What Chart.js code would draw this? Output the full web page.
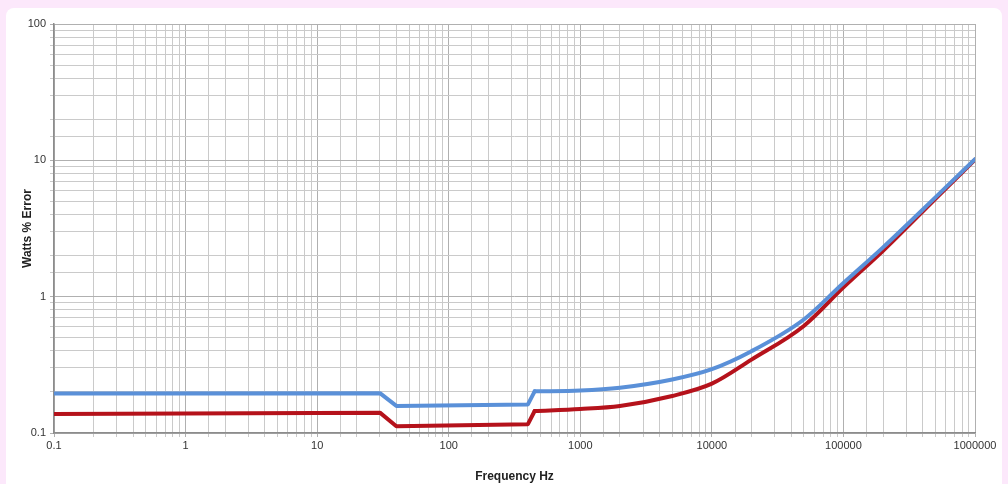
<!DOCTYPE html>
<html>
<head>
<meta charset="utf-8">
<script src="https://cdn.jsdelivr.net/npm/chart.js@4.4.1/dist/chart.umd.min.js"></script>
<style>
  html, body { margin: 0; padding: 0; background: #fce8fb; overflow: hidden; }
  #panel { position: absolute; left: 6px; top: 8px; width: 996px; height: 500px; background: #ffffff; border-radius: 8px; }
  #wrap { position: absolute; left: 0; top: 0; width: 1008px; height: 484px; }
</style>
</head>
<body>
<div id="panel"></div>
<div id="wrap"><canvas id="main-canvas"></canvas></div>
<script>
// values
// low part: flat steps drawn with straight segments
const lowFrequencies = [0.1, 30, 40, 400, 450];
const blueLow = [0.195, 0.196, 0.158, 0.162, 0.202];
const redLow = [0.138, 0.141, 0.112, 0.116, 0.145];

// high part: smooth rise
const highFrequencies = [450, 1000, 2000, 5000, 10000, 20000, 50000, 100000, 200000, 500000, 1000000];
const blueHigh = [0.202, 0.205, 0.215, 0.247, 0.294, 0.398, 0.68, 1.26, 2.3, 5.35, 10.2];
const redHigh = [0.145, 0.150, 0.158, 0.187, 0.230, 0.345, 0.61, 1.17, 2.17, 5.22, 10.1];

const xTickLabels = ['0.1', '1', '10', '100', '1000', '10000', '100000', '1000000'];
const yTickLabels = ['0.1', '1', '10', '100'];

const blueColor = '#5a90d8';
const redColor = '#b5121b';

function toPoints(xs, ys) {
    return xs.map((x, i) => ({ x: x, y: ys[i] }));
}

// is the tick a power of ten ?
function isDecade(v) {
    const l = Math.log10(v);
    return Math.abs(l - Math.round(l)) < 1e-6;
}

function decadeLabel(v, labels) {
    if (!isDecade(v)) return '';
    const s = String(Number(v.toPrecision(6)));
    return labels.includes(s) ? s : '';
}

function makeSet(xs, ys, color, smooth) {
    return {
        data: toPoints(xs, ys),
        borderColor: color,
        borderWidth: 4,
        pointRadius: 0,
        tension: 0,
        cubicInterpolationMode: smooth ? 'monotone' : 'default',
        borderJoinStyle: 'round',
        borderCapStyle: 'round',
        fill: false
    };
}

const tickFont = { family: 'Liberation Sans', size: 11 };
const titleFont = { family: 'Liberation Sans', size: 12, weight: 'bold' };

const chartCtx = document.getElementById('main-canvas');

const lineChart = new Chart(chartCtx, {
    type: 'line',
    data: {
        datasets: [
            makeSet(lowFrequencies, blueLow, blueColor, false),
            makeSet(highFrequencies, blueHigh, blueColor, true),
            makeSet(lowFrequencies, redLow, redColor, false),
            makeSet(highFrequencies, redHigh, redColor, true)
        ]
    },
    options: {
        responsive: true,
        maintainAspectRatio: false,
        animation: false,
        layout: { padding: { top: 24, right: 33, left: 20, bottom: 0 } },
        plugins: {
            legend: { display: false },
            tooltip: { enabled: false }
        },
        scales: {
            x: {
                type: 'logarithmic',
                min: 0.1,
                max: 1000000,
                afterFit: (scale) => { scale.height = 51; },
                border: { color: '#8c8c8c', width: 1.5 },
                grid: {
                    color: (c) => isDecade(c.tick.value) ? '#b0b0b0' : '#cacaca',
                    lineWidth: 1,
                    tickLength: 4,
                    drawTicks: true
                },
                ticks: {
                    autoSkip: false,
                    maxRotation: 0,
                    color: '#333333',
                    font: tickFont,
                    padding: 2,
                    callback: (v) => decadeLabel(v, xTickLabels)
                },
                title: {
                    display: true,
                    text: 'Frequency Hz',
                    color: '#222222',
                    font: titleFont,
                    padding: { top: 5, bottom: 0 }
                }
            },
            y: {
                type: 'logarithmic',
                min: 0.1,
                max: 100,
                afterFit: (scale) => { scale.width = 34; },
                border: { color: '#8c8c8c', width: 1.5 },
                grid: {
                    color: (c) => isDecade(c.tick.value) ? '#b0b0b0' : '#cacaca',
                    lineWidth: 1,
                    tickLength: 4
                },
                ticks: {
                    autoSkip: false,
                    color: '#333333',
                    font: tickFont,
                    padding: 4,
                    callback: (v) => decadeLabel(v, yTickLabels)
                },
                title: {
                    display: true,
                    text: 'Watts % Error',
                    color: '#222222',
                    font: titleFont,
                    padding: { top: 0, bottom: 4 }
                }
            }
        }
    }
});
</script>
</body>
</html>
